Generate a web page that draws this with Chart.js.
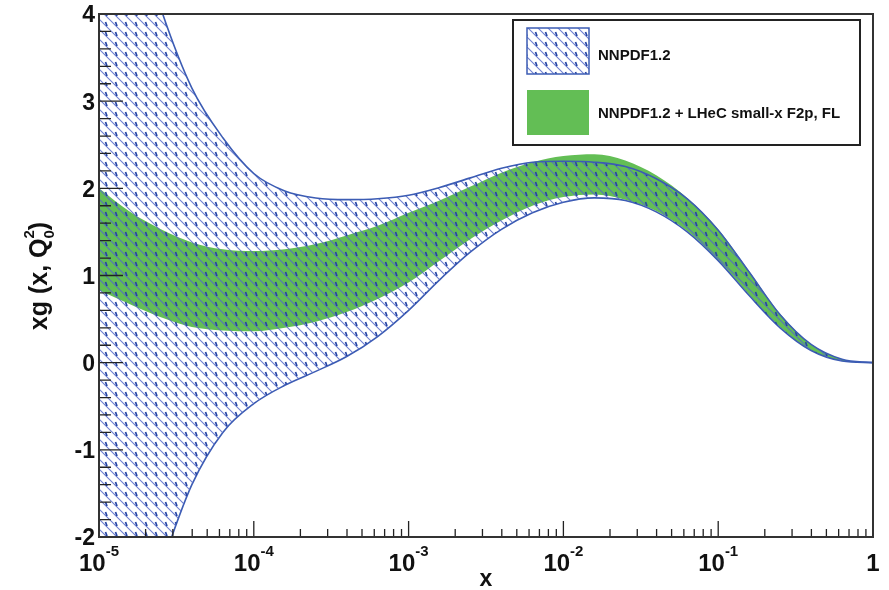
<!DOCTYPE html>
<html>
<head>
<meta charset="utf-8">
<script src="https://cdn.jsdelivr.net/npm/chart.js@4.4.0/dist/chart.umd.min.js"></script>
<style>
  html, body { margin: 0; padding: 0; background: #fff; }
  #wrap { width: 889px; height: 590px; position: relative; }
</style>
</head>
<body>
<div id="wrap"><canvas id="chart"></canvas></div>
<script>
// x sample points (log spaced, 0.2 decade)
const xValues = [
  1e-5, 1.585e-5, 2.512e-5, 3.981e-5, 6.31e-5,
  1e-4, 1.585e-4, 2.512e-4, 3.981e-4, 6.31e-4,
  1e-3, 1.585e-3, 2.512e-3, 3.981e-3, 6.31e-3,
  1e-2, 1.585e-2, 2.512e-2, 3.981e-2, 6.31e-2,
  1e-1, 0.1585, 0.2512, 0.3981, 0.631, 1
];

// NNPDF1.2 band
const nnpdfUpper = [6.7, 5.25, 4.06, 3.15, 2.58, 2.17, 1.97, 1.89, 1.87, 1.88,
  1.92, 2.01, 2.12, 2.23, 2.30, 2.31, 2.30, 2.25, 2.11, 1.88,
  1.52, 1.04, 0.55, 0.21, 0.04, 0.0];
const nnpdfLower = [-4.6, -3.4, -2.35, -1.40, -0.80, -0.47, -0.26, -0.10, 0.07, 0.30,
  0.60, 0.95, 1.27, 1.53, 1.72, 1.84, 1.89, 1.86, 1.73, 1.50,
  1.17, 0.77, 0.40, 0.14, 0.02, 0.0];

// NNPDF1.2 + LHeC band
const lhecUpper = [2.0, 1.73, 1.53, 1.38, 1.30, 1.28, 1.30, 1.36, 1.46, 1.57,
  1.72, 1.86, 2.02, 2.18, 2.30, 2.37, 2.39, 2.32, 2.15, 1.89,
  1.53, 1.05, 0.56, 0.21, 0.04, 0.0];
const lhecLower = [0.83, 0.67, 0.52, 0.41, 0.37, 0.36, 0.40, 0.47, 0.58, 0.73,
  0.92, 1.17, 1.42, 1.63, 1.80, 1.90, 1.93, 1.87, 1.74, 1.51,
  1.18, 0.78, 0.41, 0.14, 0.02, 0.0];

const labelBand1 = 'NNPDF1.2';
const labelBand2 = 'NNPDF1.2 + LHeC small-x F2p, FL';

// axis ticks
const xMajorTicks = [1e-5, 1e-4, 1e-3, 1e-2, 1e-1, 1];
const xTickLabels = [['10', '-5'], ['10', '-4'], ['10', '-3'], ['10', '-2'], ['10', '-1'], ['1', '']];
const xMinorSteps = [2, 3, 4, 5, 6, 7, 8, 9];
const yMajorTicks = [-2, -1, 0, 1, 2, 3, 4];

const blue = '#3c5cb4';
const green = '#63be55';
const FONT = '"Liberation Sans", Arial, sans-serif';

const canvas = document.getElementById('chart');
const mainCtx = canvas.getContext('2d');

function makeHatch() {
  const c = document.createElement('canvas');
  c.width = 10; c.height = 10;
  const g = c.getContext('2d');
  g.strokeStyle = 'rgba(85,105,200,0.85)';
  g.lineWidth = 1.1;
  g.beginPath();
  g.moveTo(-1, -1); g.lineTo(11, 11);
  g.moveTo(-1, 9); g.lineTo(1, 11);
  g.moveTo(9, -1); g.lineTo(11, 1);
  g.stroke();
  g.strokeStyle = '#2544a4';
  g.lineWidth = 1.7;
  g.beginPath();
  g.moveTo(5.5, 2); g.lineTo(7, 6);
  g.stroke();
  return mainCtx.createPattern(c, 'repeat');
}
const hatch = makeHatch();

const pts = arr => xValues.map((x, i) => ({ x: x, y: arr[i] }));

const rootStyle = {
  id: 'rootStyle',
  afterDraw(chart) {
    const ctx = chart.ctx;
    const a = chart.chartArea;
    const sx = chart.scales.x, sy = chart.scales.y;
    ctx.save();

    // ticks (inside the frame)
    ctx.strokeStyle = '#222';
    ctx.lineWidth = 1.3;
    ctx.beginPath();
    xMajorTicks.forEach(v => {
      const px = sx.getPixelForValue(v);
      ctx.moveTo(px, a.bottom); ctx.lineTo(px, a.bottom - 16);
    });
    xMajorTicks.slice(0, -1).forEach(d => xMinorSteps.forEach(m => {
      const px = sx.getPixelForValue(d * m);
      ctx.moveTo(px, a.bottom); ctx.lineTo(px, a.bottom - 8);
    }));
    for (let i = 0; i <= 30; i++) {
      const v = -2 + i * 0.2;
      const py = sy.getPixelForValue(v);
      ctx.moveTo(a.left, py); ctx.lineTo(a.left + (i % 5 === 0 ? 24 : 12), py);
    }
    ctx.stroke();

    // frame
    ctx.strokeStyle = '#333';
    ctx.lineWidth = 2;
    ctx.strokeRect(a.left, a.top, a.right - a.left, a.bottom - a.top);

    // y tick labels
    ctx.fillStyle = '#111';
    ctx.font = 'bold 23px ' + FONT;
    ctx.textAlign = 'right';
    ctx.textBaseline = 'middle';
    yMajorTicks.forEach(v => {
      ctx.fillText(String(v), a.left - 4, sy.getPixelForValue(v) + 2);
    });

    // x tick labels with superscripts
    ctx.textAlign = 'left';
    ctx.textBaseline = 'alphabetic';
    xMajorTicks.forEach((v, i) => {
      const px = sx.getPixelForValue(v);
      const [base, exp] = xTickLabels[i];
      ctx.font = 'bold 24px ' + FONT;
      const wb = ctx.measureText(base).width;
      ctx.font = 'bold 15px ' + FONT;
      const we = exp ? ctx.measureText(exp).width : 0;
      const start = px - (wb + we) / 2;
      ctx.font = 'bold 24px ' + FONT;
      ctx.fillText(base, start, 571);
      if (exp) {
        ctx.font = 'bold 15px ' + FONT;
        ctx.fillText(exp, start + wb, 556);
      }
    });

    // x title
    ctx.font = 'bold 23px ' + FONT;
    ctx.textAlign = 'center';
    ctx.fillText('x', (a.left + a.right) / 2, 586);

    // y title: xg (x, Q0^2)
    ctx.save();
    ctx.translate(47, 276);
    ctx.rotate(-Math.PI / 2);
    const parts = [
      ['xg (x, Q', 'bold 25px ', 0],
      ['0', 'bold 15px ', 7],
      [')', 'bold 25px ', 0]
    ];
    let total = 0;
    parts.forEach(p => { ctx.font = p[1] + FONT; total += ctx.measureText(p[0]).width; });
    let cx = -total / 2;
    ctx.textAlign = 'left';
    parts.forEach((p, i) => {
      ctx.font = p[1] + FONT;
      ctx.fillText(p[0], cx, p[2]);
      if (i === 1) {
        ctx.fillText('2', cx, -13);
      }
      cx += ctx.measureText(p[0]).width;
    });
    ctx.restore();

    // legend box
    ctx.fillStyle = '#fff';
    ctx.fillRect(513, 20, 347, 125);
    ctx.strokeStyle = '#222';
    ctx.lineWidth = 2;
    ctx.strokeRect(513, 20, 347, 125);

    ctx.fillStyle = hatch;
    ctx.fillRect(527, 28, 62, 46);
    ctx.strokeStyle = blue;
    ctx.lineWidth = 1.5;
    ctx.strokeRect(527, 28, 62, 46);

    ctx.fillStyle = green;
    ctx.fillRect(527, 90, 62, 45);

    ctx.fillStyle = '#111';
    ctx.font = 'bold 15px ' + FONT;
    ctx.textAlign = 'left';
    ctx.textBaseline = 'middle';
    ctx.fillText(labelBand1, 598, 56);
    ctx.fillText(labelBand2, 598, 114);

    ctx.restore();
  }
};

new Chart(canvas, {
  type: 'line',
  data: {
    datasets: [
      {
        label: labelBand1,
        data: pts(nnpdfUpper),
        borderColor: blue,
        borderWidth: 1.6,
        backgroundColor: hatch,
        fill: '+1',
        pointRadius: 0,
        cubicInterpolationMode: 'monotone'
      },
      {
        label: labelBand1 + ' lower',
        data: pts(nnpdfLower),
        borderColor: blue,
        borderWidth: 1.6,
        fill: false,
        pointRadius: 0,
        cubicInterpolationMode: 'monotone'
      },
      {
        label: labelBand2,
        data: pts(lhecUpper),
        borderColor: green,
        borderWidth: 0,
        backgroundColor: green,
        fill: '+1',
        pointRadius: 0,
        cubicInterpolationMode: 'monotone'
      },
      {
        label: labelBand2 + ' lower',
        data: pts(lhecLower),
        borderColor: green,
        borderWidth: 0,
        fill: false,
        pointRadius: 0,
        cubicInterpolationMode: 'monotone'
      }
    ]
  },
  options: {
    responsive: true,
    maintainAspectRatio: false,
    animation: false,
    layout: { padding: { left: 99, top: 14, right: 16, bottom: 53 } },
    plugins: {
      legend: { display: false },
      tooltip: { enabled: false }
    },
    scales: {
      x: { type: 'logarithmic', min: 1e-5, max: 1, display: false },
      y: { type: 'linear', min: -2, max: 4, display: false }
    }
  },
  plugins: [rootStyle]
});
</script>
</body>
</html>
